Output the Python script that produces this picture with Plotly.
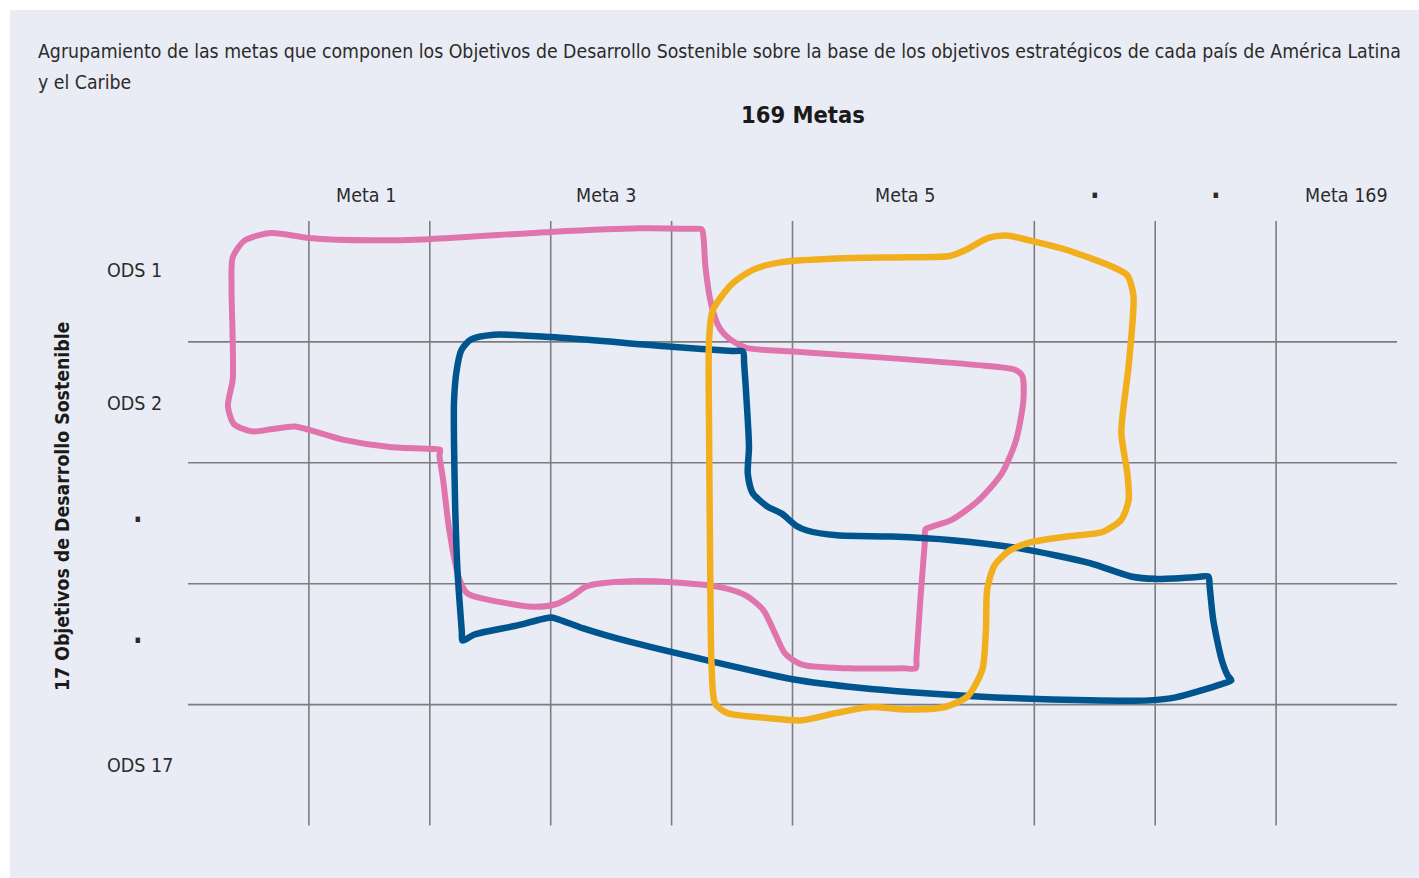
import plotly.graph_objects as go

# ---------------- data ----------------
title_line1 = ("Agrupamiento de las metas que componen los Objetivos de Desarrollo Sostenible "
               "sobre la base de los objetivos estratégicos de cada país de América Latina")
title_line2 = "y el Caribe"
top_title = "169 Metas"
side_title = "17 Objetivos de Desarrollo Sostenible"

col_labels = ["Meta 1", "Meta 3", "Meta 5", "·", "·", "Meta 169"]
col_spans = [(1, 2), (3, 4), (5, 7), (7, 8), (8, 9), (9, 10)]
row_labels = ["ODS 1", "ODS 2", "·", "·", "ODS 17"]
row_pos = [0.41, 1.51, 2.47, 3.47, 4.50]

v_lines = [1, 2, 3, 4, 5, 7, 8, 9]     # vertical grid lines (metas)
h_lines = [1, 2, 3, 4]                 # horizontal grid lines (ODS)
grid_x_extent = (0, 10)
grid_y_extent = (0, 5)

# Group outlines (grid units: x = metas, y = ODS rows)
pink_x = [4.25, 4.265, 4.28, 4.33, 4.40, 4.50, 4.62, 5.00, 5.75, 6.51, 6.84, 6.90, 6.91, 6.85, 6.73,
          6.54, 6.32, 6.15, 6.10, 6.095, 6.06, 6.025, 6.02, 5.92, 5.46, 5.08, 4.94, 4.85, 4.76, 4.62,
          4.41, 4.03, 3.65, 3.30, 3.18, 3.04, 2.85, 2.47, 2.31, 2.24, 2.16, 2.11, 2.08, 2.085, 2.00,
          1.67, 1.29, 1.01, 0.88, 0.70, 0.53, 0.38, 0.33, 0.37, 0.37, 0.36, 0.37, 0.47, 0.69, 1.00,
          1.51, 2.00, 3.00, 3.73, 4.15, 4.25]
pink_y = [0.07, 0.15, 0.38, 0.70, 0.89, 0.99, 1.05, 1.08, 1.13, 1.19, 1.23, 1.28, 1.48, 1.81, 2.09,
          2.31, 2.47, 2.53, 2.55, 2.65, 3.10, 3.62, 3.70, 3.70, 3.70, 3.67, 3.58, 3.40, 3.22, 3.10,
          3.03, 2.99, 2.98, 3.02, 3.10, 3.17, 3.19, 3.13, 3.08, 2.95, 2.55, 2.14, 1.94, 1.89, 1.885,
          1.87, 1.81, 1.73, 1.70, 1.72, 1.74, 1.68, 1.53, 1.31, 1.00, 0.54, 0.30, 0.16, 0.10, 0.14,
          0.16, 0.15, 0.09, 0.06, 0.065, 0.07]

blue_x = [4.59, 4.60, 4.62, 4.64, 4.63, 4.67, 4.79, 4.91, 5.03, 5.12, 5.37, 5.82, 6.32, 6.89, 7.46,
          7.80, 8.00, 8.35, 8.44, 8.45, 8.48, 8.55, 8.60, 8.63, 8.55, 8.17, 7.95, 7.45, 6.50, 5.55,
          5.00, 4.32, 3.65, 3.27, 3.05, 3.00, 2.90, 2.70, 2.37, 2.27, 2.265, 2.23, 2.21, 2.20, 2.20,
          2.22, 2.26, 2.34, 2.53, 3.00, 4.00, 4.50, 4.59]
blue_y = [1.08, 1.18, 1.48, 1.87, 2.09, 2.25, 2.36, 2.42, 2.52, 2.56, 2.60, 2.61, 2.64, 2.71, 2.83,
          2.94, 2.96, 2.945, 2.94, 3.02, 3.30, 3.63, 3.76, 3.80, 3.83, 3.94, 3.965, 3.965, 3.93, 3.86,
          3.79, 3.64, 3.48, 3.37, 3.29, 3.28, 3.30, 3.35, 3.42, 3.47, 3.40, 2.91, 2.37, 1.81, 1.50,
          1.25, 1.07, 0.98, 0.94, 0.96, 1.04, 1.075, 1.08]

orange_x = [4.31, 4.31, 4.34, 4.50, 4.68, 4.91, 5.37, 5.94, 6.30, 6.43, 6.62, 6.77, 6.96, 7.27, 7.65,
            7.77, 7.82, 7.78, 7.72, 7.77, 7.78, 7.72, 7.57, 7.27, 6.96, 6.79, 6.67, 6.61, 6.60, 6.57,
            6.45, 6.26, 5.93, 5.65, 5.36, 5.08, 4.79, 4.46, 4.36, 4.33, 4.32, 4.31]
orange_y = [1.75, 0.98, 0.74, 0.52, 0.40, 0.34, 0.31, 0.30, 0.29, 0.24, 0.14, 0.12, 0.16, 0.24, 0.38,
            0.45, 0.62, 1.20, 1.75, 2.09, 2.31, 2.47, 2.57, 2.61, 2.66, 2.73, 2.85, 3.05, 3.38, 3.71,
            3.93, 4.02, 4.04, 4.02, 4.07, 4.13, 4.11, 4.07, 3.99, 3.66, 2.97, 1.75]

# ---------------- layout helpers ----------------
W, H = 1419, 878
X0_PX, Y0_PX, CELL = 188.0, 221.0, 120.9   # pixel position of grid origin and cell size
col_label_shift = [-3, -5, -8, 0, 0, 10]   # small pixel nudges of the column labels

def px2x(px):
    return (px - X0_PX) / CELL

def py2y(py):
    return (py - Y0_PX) / CELL

FONT = "DejaVu Sans Condensed, Liberation Sans Narrow, Arial Narrow, sans-serif"
TXT = "#2b2b2b"
GRID = "#7d7d80"
BG = "#eaecf5"

fig = go.Figure()

# outlines: pink bottom, blue middle, orange top
for xs, ys, col, w in [(pink_x, pink_y, "#e075ad", 6),
                       (blue_x, blue_y, "#00558e", 6.5),
                       (orange_x, orange_y, "#f2af1d", 6.5)]:
    fig.add_trace(go.Scatter(x=xs, y=ys, mode="lines",
                             line=dict(color=col, width=w, shape="spline", smoothing=0.7),
                             hoverinfo="skip", showlegend=False))

shapes = [dict(type="rect", xref="paper", yref="paper", x0=10 / W, x1=1, y0=0, y1=1 - 10 / H,
               fillcolor=BG, line=dict(width=0), layer="below")]
for v in v_lines:
    shapes.append(dict(type="line", xref="x", yref="y", x0=v, x1=v,
                       y0=grid_y_extent[0], y1=grid_y_extent[1],
                       line=dict(color=GRID, width=1.6), layer="below"))
for h in h_lines:
    shapes.append(dict(type="line", xref="x", yref="y", x0=grid_x_extent[0], x1=grid_x_extent[1],
                       y0=h, y1=h, line=dict(color=GRID, width=1.6), layer="below"))

ann = []
ann.append(dict(text=title_line1, xref="paper", yref="paper", x=36 / W, y=1 - 51 / H,
                xanchor="left", yanchor="middle", showarrow=False,
                font=dict(family=FONT, size=19.3, color=TXT)))
ann.append(dict(text=title_line2, xref="paper", yref="paper", x=36 / W, y=1 - 83 / H,
                xanchor="left", yanchor="middle", showarrow=False,
                font=dict(family=FONT, size=19.3, color=TXT)))
ann.append(dict(text="<b>" + top_title + "</b>", xref="paper", yref="paper", x=803 / W, y=1 - 115 / H,
                xanchor="center", yanchor="middle", showarrow=False,
                font=dict(family=FONT, size=23.5, color="#1a1a1a")))
ann.append(dict(text="<b>" + side_title + "</b>", xref="paper", yref="paper", x=62 / W, y=1 - 507 / H,
                xanchor="center", yanchor="middle", showarrow=False, textangle=-90,
                font=dict(family=FONT, size=19.3, color="#1a1a1a")))

for lab, (a, b), sh in zip(col_labels, col_spans, col_label_shift):
    is_dot = lab == "·"
    ann.append(dict(text=("<b>·</b>" if is_dot else lab), x=(a + b) / 2, y=py2y(195),
                    xref="x", yref="y", xanchor="center", yanchor="middle", showarrow=False,
                    xshift=sh,
                    font=dict(family=FONT, size=(28 if is_dot else 19.5), color=TXT)))
for lab, yv in zip(row_labels, row_pos):
    is_dot = lab == "·"
    ann.append(dict(text=("<b>·</b>" if is_dot else lab),
                    x=px2x(131 if is_dot else 105), y=yv,
                    xref="x", yref="y", xanchor="left", yanchor="middle", showarrow=False,
                    font=dict(family=FONT, size=(28 if is_dot else 19.5), color=TXT)))

fig.update_layout(
    width=W, height=H,
    margin=dict(l=0, r=0, t=0, b=0),
    paper_bgcolor="white", plot_bgcolor="rgba(0,0,0,0)",
    xaxis=dict(range=[px2x(0), px2x(W)], visible=False, fixedrange=True),
    yaxis=dict(range=[py2y(H), py2y(0)], visible=False, fixedrange=True),
    shapes=shapes, annotations=ann, showlegend=False,
)

fig.write_html("out.html", config={"displayModeBar": False},
               post_script="document.body.style.margin='0';document.body.style.overflow='hidden';")
